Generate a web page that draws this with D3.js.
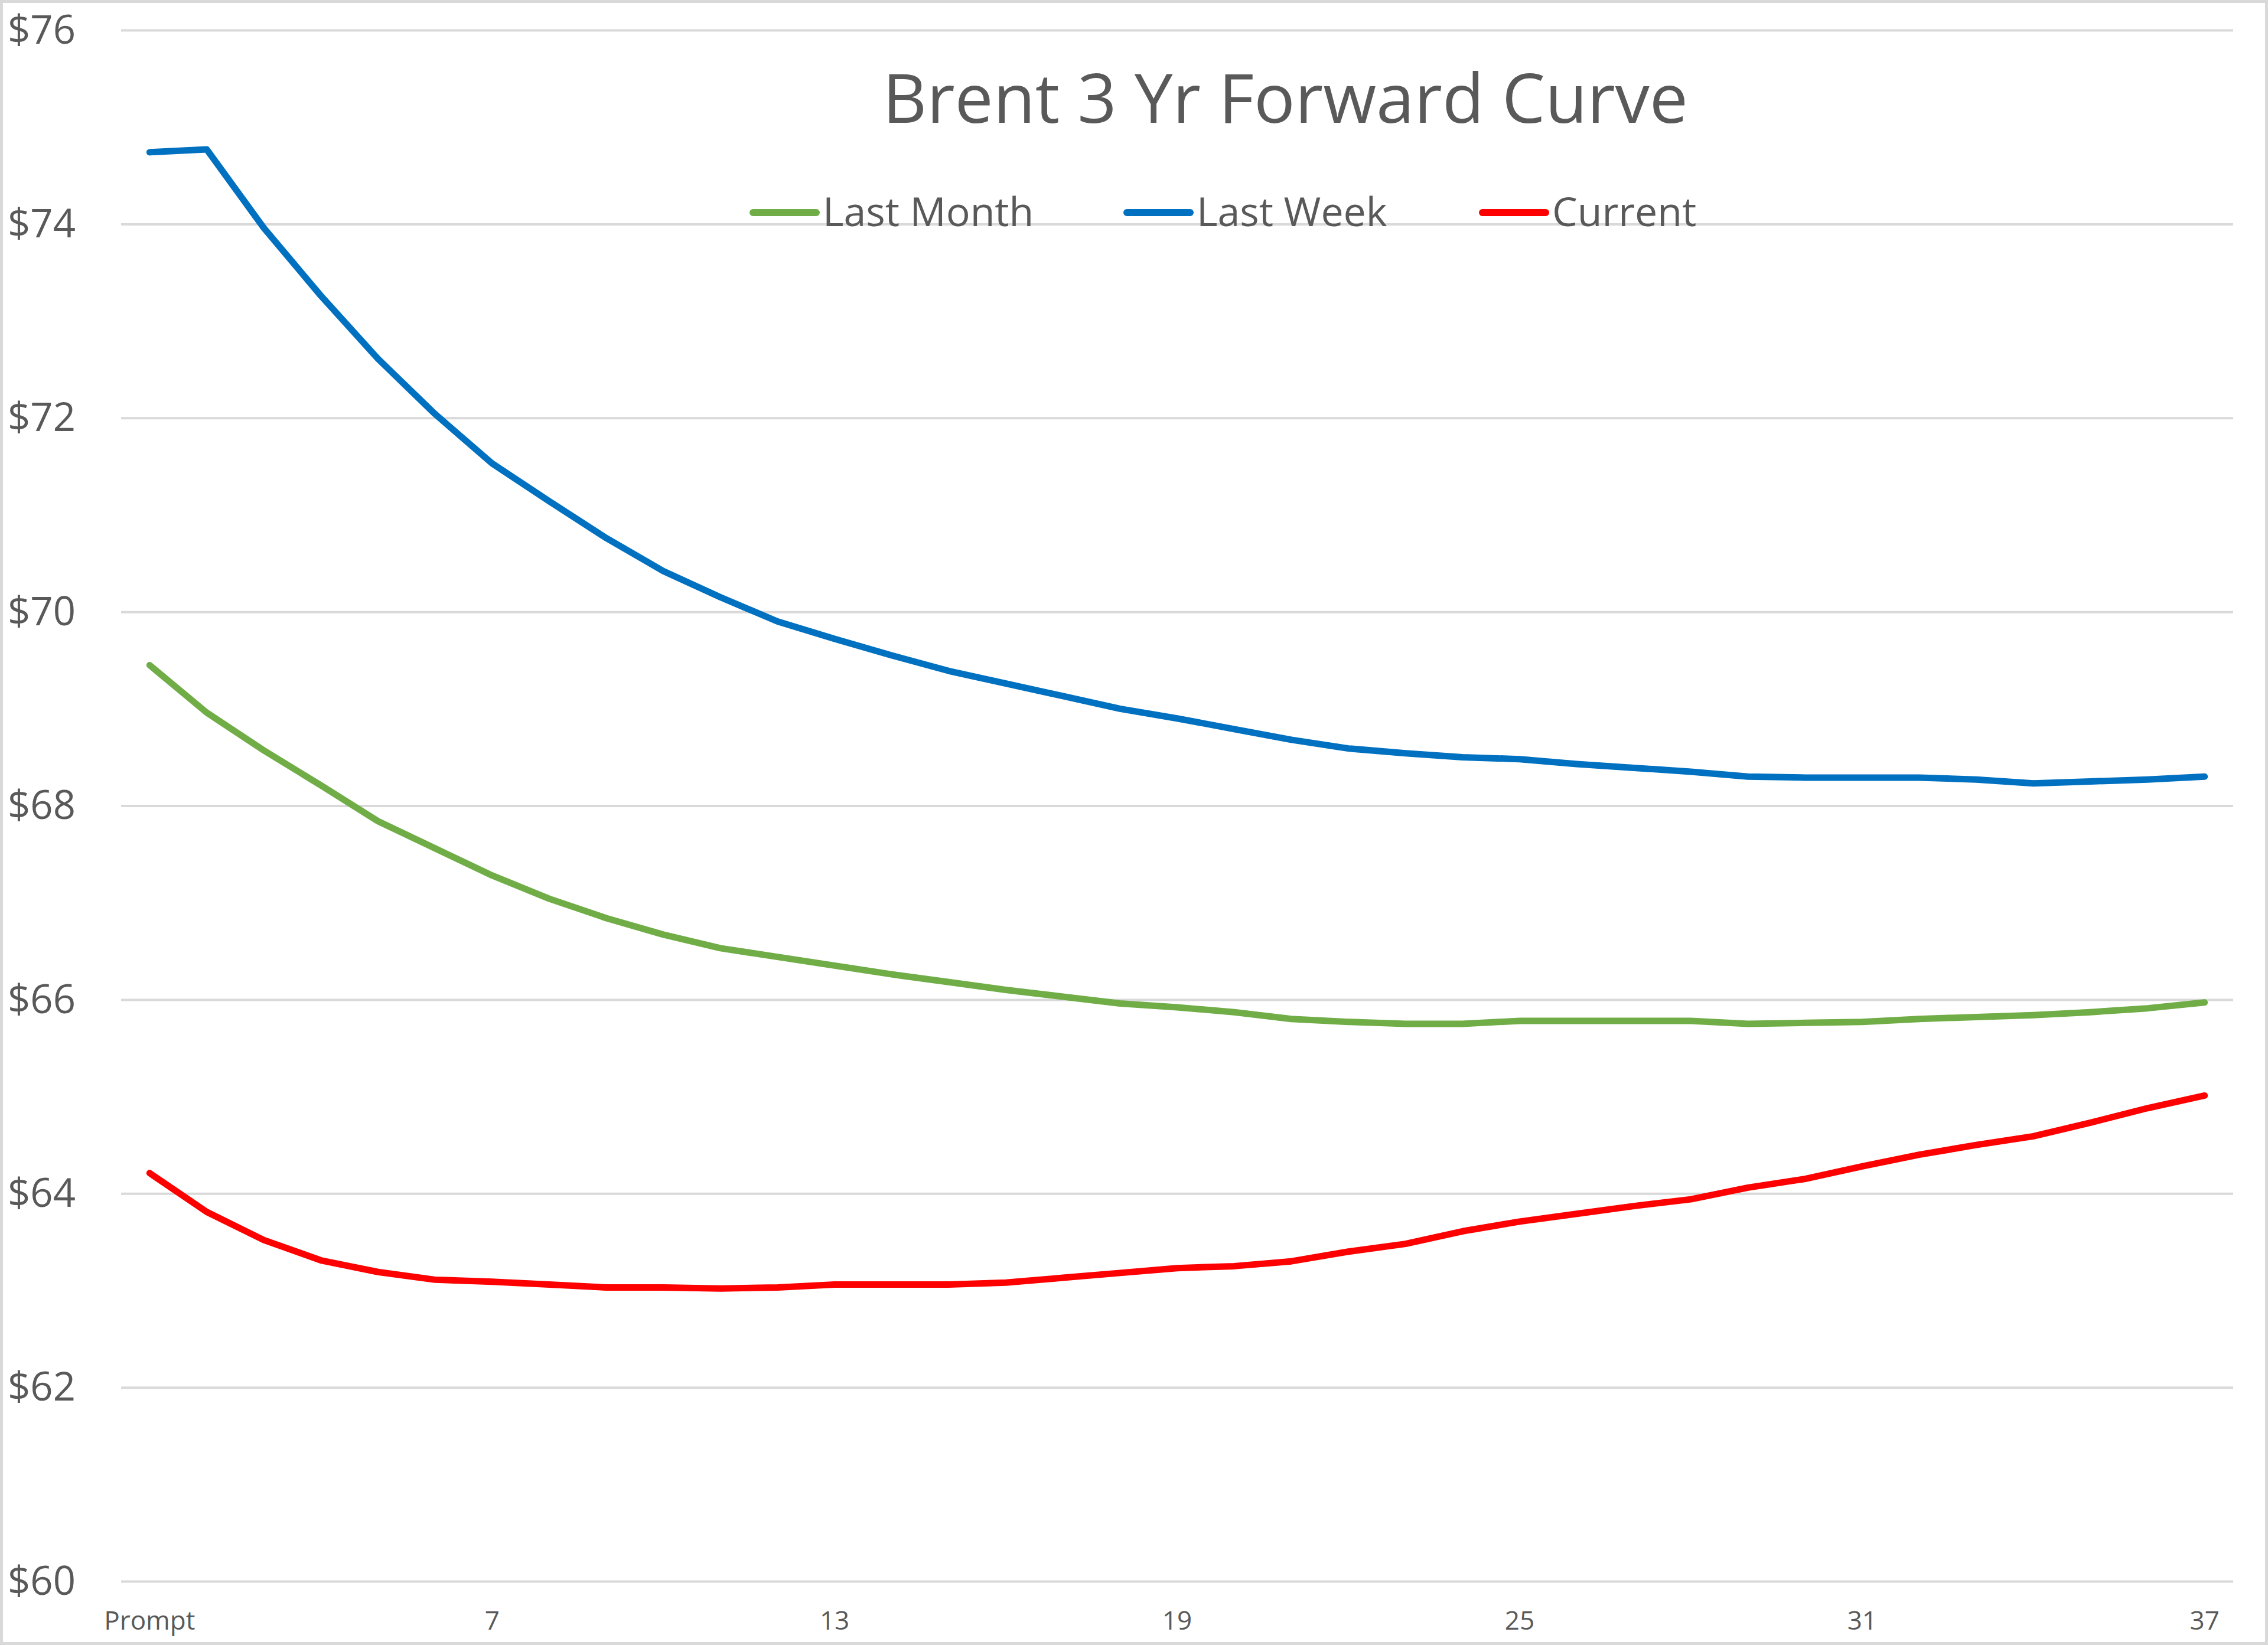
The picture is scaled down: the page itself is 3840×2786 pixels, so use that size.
<!DOCTYPE html>
<html>
<head>
<meta charset="utf-8">
<script src="https://cdn.jsdelivr.net/npm/d3@7/dist/d3.min.js"></script>
<style>
  html, body { margin: 0; padding: 0; background: #ffffff; }
  svg { display: block; }
  text { font-family: "Open Sans", "Noto Sans", sans-serif; fill: #595959; }
</style>
</head>
<body>
<svg id="chart" width="3840" height="2786"></svg>
<script>
// ---- data ----
const categories = ["Prompt","2","3","4","5","6","7","8","9","10","11","12","13","14","15","16","17","18","19",
  "20","21","22","23","24","25","26","27","28","29","30","31","32","33","34","35","36","37"];
const tickLabels = ["Prompt","7","13","19","25","31","37"];
const yTicks = [60, 62, 64, 66, 68, 70, 72, 74, 76];

const lastMonth = [69.45, 68.96, 68.57, 68.21, 67.84, 67.56, 67.28, 67.04, 66.84, 66.67, 66.53, 66.44, 66.35,
  66.26, 66.18, 66.10, 66.03, 65.96, 65.92, 65.87, 65.80, 65.77, 65.75, 65.75, 65.78, 65.78, 65.78, 65.78,
  65.75, 65.76, 65.77, 65.80, 65.82, 65.84, 65.87, 65.91, 65.97];
const lastWeek = [74.74, 74.77, 73.96, 73.26, 72.61, 72.04, 71.53, 71.14, 70.76, 70.42, 70.15, 69.90, 69.72,
  69.55, 69.39, 69.26, 69.13, 69.00, 68.90, 68.79, 68.68, 68.59, 68.54, 68.50, 68.48, 68.43, 68.39, 68.35,
  68.30, 68.29, 68.29, 68.29, 68.27, 68.23, 68.25, 68.27, 68.30];
const current = [64.21, 63.81, 63.52, 63.31, 63.19, 63.11, 63.09, 63.06, 63.03, 63.03, 63.02, 63.03, 63.06,
  63.06, 63.06, 63.08, 63.13, 63.18, 63.23, 63.25, 63.30, 63.40, 63.48, 63.61, 63.71, 63.79, 63.87, 63.94,
  64.06, 64.15, 64.28, 64.40, 64.50, 64.59, 64.73, 64.88, 65.01];

const seriesNames = ["Last Month", "Last Week", "Current"];
const seriesColors = ["#70AD47", "#0070C0", "#FF0000"];
const seriesValues = [lastMonth, lastWeek, current];
const title = "Brent 3 Yr Forward Curve";

// ---- layout ----
const W = 3840, H = 2786;
const plot = { left: 205, right: 3781, top: 51, bottom: 2678 };

const svg = d3.select("#chart");

// background + chart border
svg.append("rect").attr("x", 2.5).attr("y", 2.5).attr("width", W - 5).attr("height", H - 5)
  .attr("fill", "#ffffff").attr("stroke", "#d9d9d9").attr("stroke-width", 5);

const x = d3.scaleBand().domain(categories).range([plot.left, plot.right]).padding(0);
const xc = c => x(c) + x.bandwidth() / 2;
const y = d3.scaleLinear().domain([60, 76]).range([plot.bottom, plot.top]);

// gridlines
const grid = svg.append("g").attr("transform", `translate(${plot.left},0)`)
  .call(d3.axisLeft(y).tickValues(yTicks).tickSize(-(plot.right - plot.left)).tickFormat(""));
grid.select(".domain").remove();
grid.selectAll("line").attr("stroke", "#d9d9d9").attr("stroke-width", 4);

// y labels
const yAxis = svg.append("g").attr("transform", `translate(128,0)`)
  .call(d3.axisLeft(y).tickValues(yTicks).tickSize(0).tickPadding(0).tickFormat(d => "$" + d));
yAxis.select(".domain").remove();
yAxis.selectAll("text").attr("font-size", 67).attr("fill", "#595959")
  .attr("font-family", "'Open Sans', 'Noto Sans', sans-serif").attr("dy", "0.33em");

// x labels (axisBottom already centres ticks in each band)
const xAxis = svg.append("g").attr("transform", `translate(0,2760)`)
  .call(d3.axisBottom(x).tickValues(tickLabels).tickSize(0).tickPadding(0));
xAxis.select(".domain").remove();
xAxis.selectAll("text").attr("font-size", 44).attr("fill", "#595959")
  .attr("font-family", "'Open Sans', 'Noto Sans', sans-serif").attr("dy", 0);

// lines
const line = d3.line().x((d, i) => xc(categories[i])).y(d => y(d));
seriesValues.forEach((vals, k) => {
  svg.append("path").datum(vals)
    .attr("d", line)
    .attr("fill", "none")
    .attr("stroke", seriesColors[k])
    .attr("stroke-width", 11)
    .attr("stroke-linejoin", "round")
    .attr("stroke-linecap", "round");
});

// title
svg.append("text").attr("x", 2176).attr("y", 208).attr("text-anchor", "middle")
  .attr("font-size", 116).text(title);

// legend
const legendX = [1270, 1903, 2505];
const legend = svg.append("g");
seriesNames.forEach((name, k) => {
  legend.append("line")
    .attr("x1", legendX[k] + 5).attr("x2", legendX[k] + 112)
    .attr("y1", 360).attr("y2", 360)
    .attr("stroke", seriesColors[k]).attr("stroke-width", 12).attr("stroke-linecap", "round");
  legend.append("text").attr("x", legendX[k] + 123).attr("y", 383)
    .attr("font-size", 68).text(name);
});
</script>
</body>
</html>
